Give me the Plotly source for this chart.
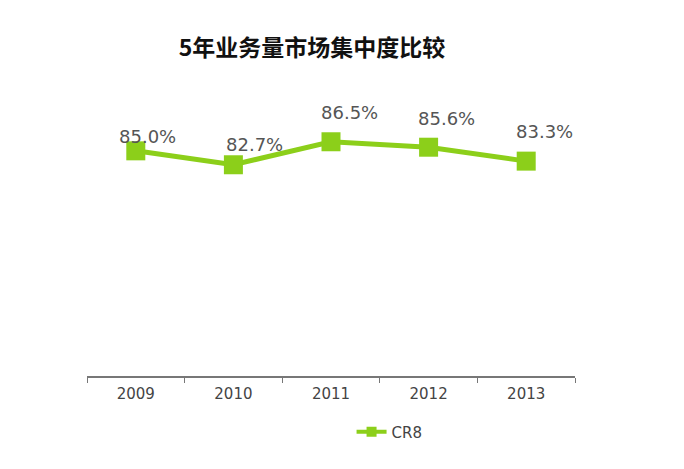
import plotly.graph_objects as go

years = ["2009", "2010", "2011", "2012", "2013"]
cr8 = [85.0, 82.7, 86.5, 85.6, 83.3]
labels = ["85.0%", "82.7%", "86.5%", "85.6%", "83.3%"]

# label offsets (pixels) relative to each point
label_dx = [12, 21, 18, 18, 18]
label_dy = [14, 20, 29, 29, 30]

green = "#8ccf1a"
OFF = 8  # browser body margin

fig = go.Figure()
fig.add_trace(go.Scatter(
    x=years, y=cr8, mode="lines+markers", name="CR8", showlegend=False,
    line=dict(color=green, width=5),
    marker=dict(symbol="square", size=19, color=green),
))
# legend entry with smaller marker
fig.add_trace(go.Scatter(
    x=[None], y=[None], mode="lines+markers", name="CR8", showlegend=True,
    line=dict(color=green, width=4),
    marker=dict(symbol="square", size=10, color=green),
))

for i, (y, t, dx, dy) in enumerate(zip(cr8, labels, label_dx, label_dy)):
    fig.add_annotation(x=i, y=y, text=t, showarrow=False,
                       xshift=dx, yshift=dy,
                       font=dict(family="DejaVu Sans, sans-serif", size=18, color="#555555"))

fig.update_layout(
    width=684, height=469,
    paper_bgcolor="white", plot_bgcolor="white",
    margin=dict(l=87 - OFF, r=109 + OFF, t=100 - OFF, b=93 + OFF),
    title=dict(text="<b>5年业务量市场集中度比较</b>", x=(312 - OFF) / 684, xanchor="center",
               y=1 - (48 - OFF) / 469, yanchor="middle",
               font=dict(family="Noto Sans CJK SC", size=23, color="#111111")),
    xaxis=dict(type="category", categoryarray=years, categoryorder="array",
               range=[-0.5, 4.5], tickson="boundaries", ticks="outside", ticklen=5,
               tickangle=0, ticklabelstandoff=3,
               tickcolor="#777777", showline=True, linecolor="#777777", linewidth=2,
               showgrid=False, zeroline=False,
               tickfont=dict(family="DejaVu Sans, sans-serif", size=15, color="#444444")),
    yaxis=dict(range=[47.8, 93.4], visible=False, showgrid=False, zeroline=False),
    showlegend=True,
    legend=dict(orientation="h", x=0.62, xanchor="center", y=-0.203, yanchor="middle",
                font=dict(family="DejaVu Sans, sans-serif", size=15, color="#444444")),
)

fig.write_html("out.html")
